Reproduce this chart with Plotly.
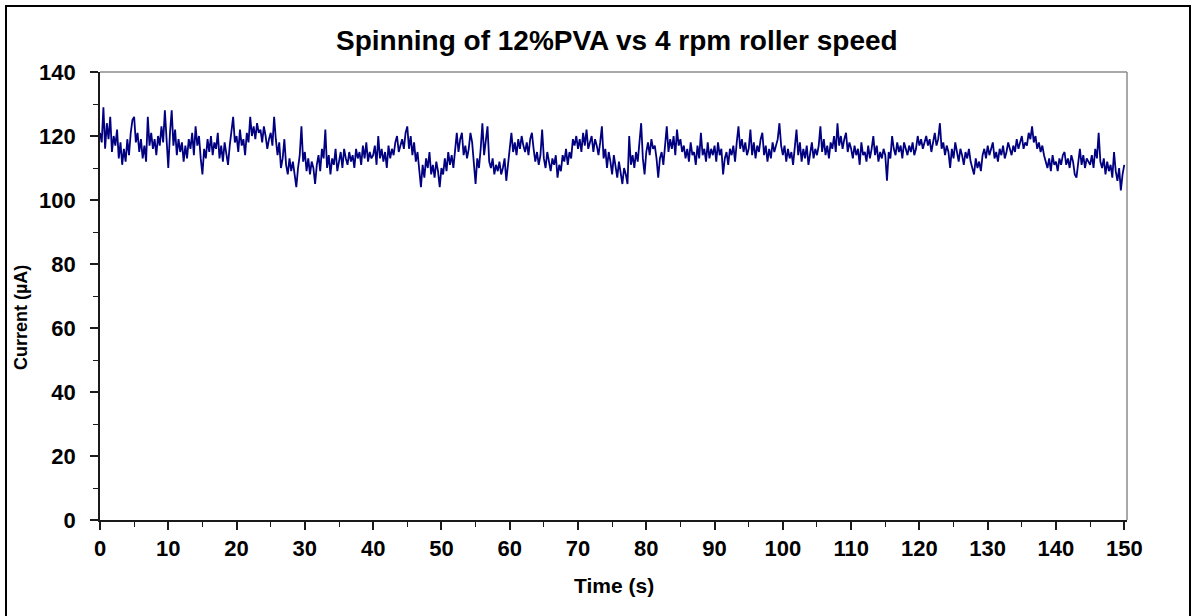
import plotly.graph_objects as go

# Sampling interval of the recorded current (s)
sample_step_s = 0.25

# Current readings (µA), 0 s – 49.75 s
current_0_50 = [
    121, 118, 129, 116, 124, 119, 126, 115, 120, 117, 122, 113, 118, 111, 116, 112, 119, 114, 121, 125,
    126, 118, 121, 115, 119, 113, 117, 112, 126, 117, 121, 116, 119, 114, 120, 117, 123, 118, 128, 119,
    110, 121, 128, 117, 122, 114, 119, 115, 118, 112, 117, 113, 119, 116, 121, 114, 123, 117, 120, 113,
    108, 116, 113, 119, 115, 120, 114, 118, 116, 121, 113, 117, 112, 118, 114, 111, 117, 121, 126, 118,
    120, 115, 122, 117, 119, 114, 121, 118, 126, 120, 123, 119, 124, 121, 122, 118, 123, 120, 116, 119,
    121, 117, 126, 119, 114, 118, 110, 113, 119, 111, 108, 113, 109, 112, 107, 104, 110, 114, 123, 112,
    115, 109, 113, 108, 112, 110, 105, 111, 114, 109, 116, 113, 122, 110, 114, 108, 113, 111, 116, 109,
    112, 115, 110, 116, 113, 111, 115, 112, 114, 110, 116, 113, 115, 111, 117, 113, 118, 112, 115, 113,
    114, 117, 111, 120, 113, 116, 112, 115, 110, 117, 113, 116, 114, 118, 120, 115, 117, 119, 116, 121,
    123, 116, 120, 114, 118, 112, 115, 109, 104, 111, 107, 113, 110, 115, 108, 111, 107, 112, 109, 104,
]

# 50 s – 99.75 s
current_50_100 = [
    110, 108, 113, 109, 115, 111, 114, 110, 117, 121, 115, 119, 121, 114, 117, 113, 116, 121, 118, 112,
    105, 113, 110, 116, 124, 114, 118, 123, 112, 110, 113, 108, 111, 109, 112, 108, 110, 113, 106, 111,
    117, 121, 115, 118, 114, 119, 116, 120, 117, 115, 118, 114, 119, 121, 116, 112, 115, 111, 114, 122,
    113, 110, 115, 112, 109, 113, 111, 114, 107, 111, 109, 114, 112, 116, 111, 115, 113, 119, 117, 120,
    116, 119, 115, 121, 117, 122, 116, 118, 120, 115, 119, 117, 114, 118, 123, 113, 116, 110, 115, 112,
    108, 114, 111, 107, 112, 109, 105, 110, 108, 105, 120, 111, 114, 110, 115, 112, 117, 124, 113, 108,
    115, 118, 114, 119, 116, 117, 113, 107, 113, 115, 111, 116, 123, 115, 119, 116, 120, 114, 122, 117,
    119, 115, 117, 113, 116, 112, 118, 114, 115, 111, 117, 113, 121, 114, 116, 112, 118, 113, 116, 114,
    117, 112, 118, 114, 116, 108, 113, 115, 111, 116, 114, 117, 112, 118, 123, 116, 119, 115, 118, 114,
    116, 122, 114, 118, 113, 117, 115, 119, 121, 114, 117, 112, 116, 113, 118, 115, 117, 119, 124, 117,
]

# 100 s – 150 s
current_100_150 = [
    114, 117, 112, 116, 113, 115, 111, 116, 122, 114, 118, 112, 116, 113, 117, 111, 115, 118, 113, 116,
    114, 117, 123, 115, 119, 114, 117, 113, 118, 116, 120, 115, 124, 117, 120, 116, 119, 121, 115, 118,
    116, 113, 117, 114, 116, 111, 118, 114, 115, 112, 117, 113, 116, 120, 114, 117, 112, 115, 113, 116,
    114, 106, 115, 113, 120, 116, 114, 118, 115, 117, 113, 118, 116, 114, 117, 115, 118, 114, 116, 120,
    117, 119, 116, 118, 120, 117, 119, 115, 118, 121, 117, 119, 124, 116, 118, 114, 117, 115, 110, 116,
    113, 118, 115, 112, 116, 114, 111, 115, 113, 116, 112, 110, 108, 113, 110, 112, 109, 114, 116, 113,
    117, 114, 116, 118, 113, 115, 112, 116, 114, 117, 113, 115, 118, 116, 114, 117, 115, 119, 116, 118,
    120, 116, 118, 117, 121, 119, 123, 118, 120, 116, 118, 115, 117, 114, 112, 110, 113, 109, 114, 111,
    112, 109, 113, 111, 114, 115, 111, 113, 110, 114, 112, 108, 107, 112, 116, 111, 114, 110, 113, 112,
    111, 114, 110, 116, 113, 121, 112, 110, 113, 108, 112, 109, 111, 107, 115, 109, 106, 110, 103, 108,
    111,
]

current_uA = current_0_50 + current_50_100 + current_100_150
time_s = [i * sample_step_s for i in range(len(current_uA))]

x_ticks = [0, 10, 20, 30, 40, 50, 60, 70, 80, 90, 100, 110, 120, 130, 140, 150]
y_ticks = [0, 20, 40, 60, 80, 100, 120, 140]

title_text = "Spinning of 12%PVA vs 4 rpm roller speed"
x_title = "Time (s)"
y_title = "Current (µA)"

FONT = "Liberation Sans, Arial, sans-serif"
W, H = 1195, 616
L, R, T, B = 100, 68, 72, 96
pw = W - L - R
ph = H - T - B

def px_x(px):
    return (px - L) / pw

def px_y(py):
    return (H - B - py) / ph

fig = go.Figure()
fig.add_trace(go.Scatter(
    x=time_s, y=current_uA, mode="lines",
    line=dict(color="#000080", width=1.8),
    hoverinfo="skip", showlegend=False,
))

axis_common = dict(
    showline=True, linecolor="#1a1a1a", linewidth=1.6,
    ticks="outside", ticklen=8, tickwidth=1.6, tickcolor="#1a1a1a",
    showgrid=False, zeroline=False,
    tickfont=dict(family=FONT, size=22, color="#000000", weight="bold"),
)

fig.update_xaxes(
    range=[0, 150.4], tickvals=x_ticks, ticktext=[str(v) for v in x_ticks],
    minor=dict(ticks="outside", ticklen=5, tickwidth=1.4, tickcolor="#1a1a1a", dtick=5, tick0=0, showgrid=False),
    **axis_common,
)
fig.update_yaxes(
    range=[0, 140], tickvals=y_ticks, ticktext=[str(v) for v in y_ticks],
    minor=dict(ticks="outside", ticklen=5, tickwidth=1.4, tickcolor="#1a1a1a", dtick=10, tick0=0, showgrid=False),
    ticklabelstandoff=10,
    **axis_common,
)

shapes = [
    # gray plot-area frame (top and right)
    dict(type="line", xref="x domain", yref="y domain", x0=0, x1=1, y0=1, y1=1,
         line=dict(color="#8c8c8c", width=1.5), layer="below"),
    dict(type="line", xref="x domain", yref="y domain", x0=1, x1=1, y0=0, y1=1,
         line=dict(color="#8c8c8c", width=1.5), layer="below"),
    # outer chart border
    dict(type="rect", xref="paper", yref="paper",
         x0=px_x(6), x1=px_x(1190), y0=px_y(630), y1=px_y(6),
         line=dict(color="#000000", width=2), fillcolor="rgba(0,0,0,0)", layer="above"),
]

annotations = [
    dict(text=title_text, xref="paper", yref="paper", x=px_x(617), y=px_y(41),
         xanchor="center", yanchor="middle", showarrow=False,
         font=dict(family=FONT, size=28, color="#000000", weight="bold")),
    dict(text=x_title, xref="paper", yref="paper", x=px_x(614), y=px_y(585),
         xanchor="center", yanchor="middle", showarrow=False,
         font=dict(family=FONT, size=21, color="#000000", weight="bold")),
    dict(text=y_title, xref="paper", yref="paper", x=px_x(21), y=px_y(318),
         xanchor="center", yanchor="middle", showarrow=False, textangle=-90,
         font=dict(family=FONT, size=18, color="#000000", weight="bold")),
]

fig.update_layout(
    width=W, height=H,
    margin=dict(l=L, r=R, t=T, b=B, pad=0),
    paper_bgcolor="#ffffff", plot_bgcolor="#ffffff",
    shapes=shapes, annotations=annotations,
    showlegend=False,
)

fig.write_html("out.html")
